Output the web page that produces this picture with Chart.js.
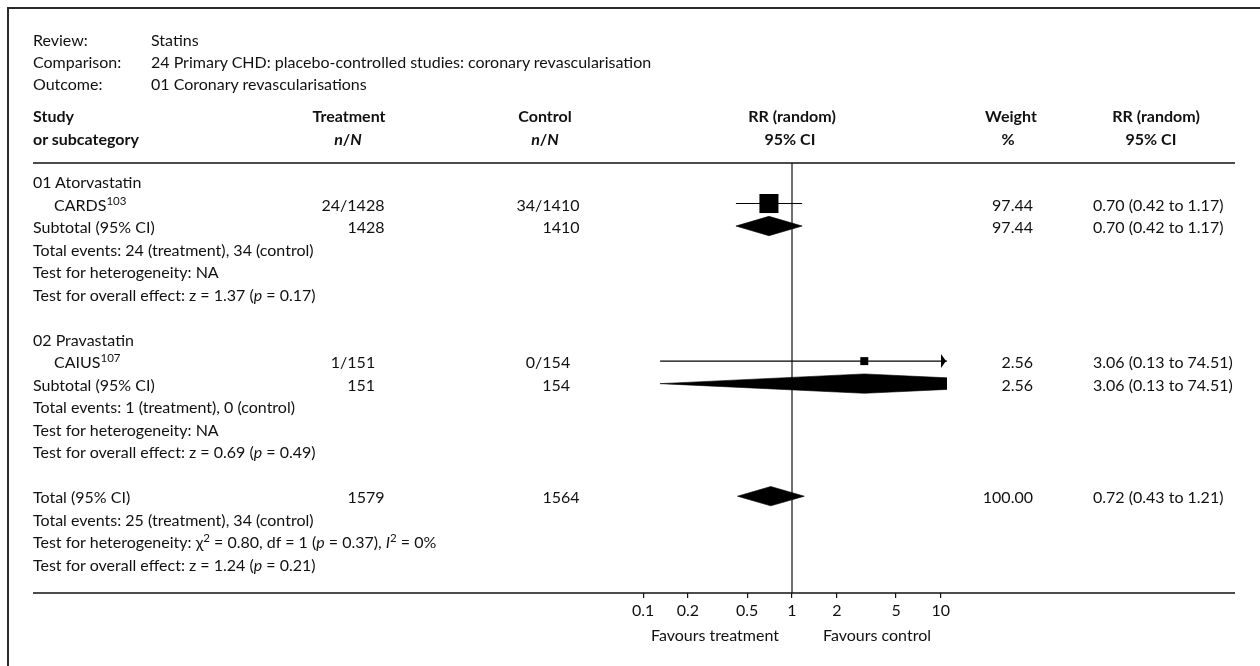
<!DOCTYPE html>
<html>
<head>
<meta charset="utf-8">
<title>Statins – coronary revascularisations</title>
<script src="https://cdn.jsdelivr.net/npm/chart.js@4.4.1/dist/chart.umd.min.js"></script>
<style>
  html, body { margin: 0; padding: 0; background: #fff; }
  #page { position: relative; width: 1260px; height: 666px; overflow: hidden;
          font-family: Lato, "Noto Sans", sans-serif; font-size: 16px; color: #111; }
  #frame { position: absolute; left: 7px; top: 7px; width: 1300px; height: 700px;
           border-left: 2px solid #2a2a2a; border-top: 2px solid #2a2a2a; }
  canvas { position: absolute; left: 0; top: 0; }
  .t { position: absolute; white-space: nowrap; line-height: 19px; transform: translateY(-50%); }
  .c { transform: translate(-50%, -50%); }
  .r { transform: translate(-100%, -50%); }
  .b { font-weight: bold; }
  sup { font-size: 0.72em; line-height: 0; position: relative; top: -0.5em; vertical-align: baseline; }
</style>
</head>
<body>
<div id="page">
  <div id="frame"></div>
  <canvas id="plot" width="1260" height="666"></canvas>
  <div id="txt"></div>
</div>
<script>
// ---- review details ----
const infoLabels = ["Review:", "Comparison:", "Outcome:"];
const infoValues = ["Statins",
                    "24 Primary CHD: placebo-controlled studies: coronary revascularisation",
                    "01 Coronary revascularisations"];

// ---- subgroups ----
const groupNames = ["01 Atorvastatin", "02 Pravastatin"];

// ---- individual studies ----
const studyNames   = ["CARDS", "CAIUS"];
const studyRefs    = ["103", "107"];
const studyGroup   = [0, 1];
const treatEvents  = [24, 1];
const treatTotals  = [1428, 151];
const ctrlEvents   = [34, 0];
const ctrlTotals   = [1410, 154];
const studyRR      = [0.70, 3.06];
const studyLow     = [0.42, 0.13];
const studyHigh    = [1.17, 74.51];
const studyWeight  = [97.44, 2.56];

// ---- subgroup summaries ----
const subTreatTotals = [1428, 151];
const subCtrlTotals  = [1410, 154];
const subTreatEvents = [24, 1];
const subCtrlEvents  = [34, 0];
const subRR          = [0.70, 3.06];
const subLow         = [0.42, 0.13];
const subHigh        = [1.17, 74.51];
const subWeight      = [97.44, 2.56];
const subHeterogeneity = ["NA", "NA"];
const subZ           = [1.37, 0.69];
const subP           = [0.17, 0.49];

// ---- overall summary ----
const totalTreatTotal = 1579, totalCtrlTotal = 1564;
const totalTreatEvents = 25, totalCtrlEvents = 34;
const totalRR = 0.72, totalLow = 0.43, totalHigh = 1.21, totalWeight = 100.00;
const totalChi2 = 0.80, totalDf = 1, totalHetP = 0.37, totalI2 = 0;
const totalZ = 1.24, totalP = 0.21;

// ---- axis ----
const axisTicks  = [0.1, 0.2, 0.5, 1, 2, 5, 10];
const axisLabels = ["0.1", "0.2", "0.5", "1", "2", "5", "10"];
const favourLeft = "Favours treatment", favourRight = "Favours control";

// ---- row layout: each subgroup uses 7 lines, the overall block follows ----
const LINES_PER_GROUP = 7;
const groupRow    = g => g * LINES_PER_GROUP;
const studyRow    = i => groupRow(studyGroup[i]) + 1;
const subRow      = g => groupRow(g) + 2;
const totalRow    = groupNames.length * LINES_PER_GROUP;
const DIAMOND_HALF = 0.43;           // half height of a summary diamond, in rows
const f2 = v => v.toFixed(2);
const ciText = (rr, lo, hi) => `${f2(rr)} (${f2(lo)} to ${f2(hi)})`;
const boxSide = w => Math.max(8, 19.3 * Math.sqrt(w / 100));

function diamond(rr, lo, hi, row) {
  return {
    type: 'line',
    data: [{x: lo, y: row}, {x: rr, y: row - DIAMOND_HALF}, {x: hi, y: row},
           {x: rr, y: row + DIAMOND_HALF}, {x: lo, y: row}],
    borderColor: '#000', borderWidth: 0.6, backgroundColor: '#000',
    fill: 'shape', pointRadius: 0, tension: 0
  };
}

const datasets = [];
// confidence interval whiskers
studyNames.forEach((s, i) => datasets.push({
  type: 'line',
  data: [{x: studyLow[i], y: studyRow(i)}, {x: studyHigh[i], y: studyRow(i)}],
  borderColor: '#000', borderWidth: 1.2, pointRadius: 0, fill: false
}));
// study boxes
datasets.push({
  type: 'scatter',
  data: studyNames.map((s, i) => ({x: studyRR[i], y: studyRow(i)})),
  pointStyle: 'rect',
  pointRadius: c => boxSide(studyWeight[c.dataIndex]) / Math.SQRT2,
  pointHoverRadius: c => boxSide(studyWeight[c.dataIndex]) / Math.SQRT2,
  backgroundColor: '#000', borderWidth: 0
});
// subgroup and overall diamonds
groupNames.forEach((g, i) => datasets.push(diamond(subRR[i], subLow[i], subHigh[i], subRow(i))));
datasets.push(diamond(totalRR, totalLow, totalHigh, totalRow));

const TABLE_LEFT = 33, TABLE_RIGHT = 1235;

const forestFrame = {
  id: 'forestFrame',
  beforeDatasetsDraw(chart) {
    const {ctx, chartArea: a, scales: {x}} = chart;
    const x1 = x.getPixelForValue(1);
    ctx.save();
    ctx.strokeStyle = '#111';
    ctx.lineWidth = 1.2;
    ctx.beginPath(); ctx.moveTo(x1, a.top); ctx.lineTo(x1, a.bottom); ctx.stroke();
    ctx.restore();
  },
  afterDraw(chart) {
    const {ctx, chartArea: a, scales: {x, y}} = chart;
    ctx.save();
    ctx.strokeStyle = '#111';
    ctx.lineWidth = 1.5;
    [a.top, a.bottom].forEach(yy => {
      ctx.beginPath(); ctx.moveTo(TABLE_LEFT, yy); ctx.lineTo(TABLE_RIGHT, yy); ctx.stroke();
    });
    // arrowheads where an interval runs past the axis
    ctx.fillStyle = '#000';
    studyNames.forEach((s, i) => {
      const yy = y.getPixelForValue(studyRow(i));
      if (studyHigh[i] > x.max) {
        const tip = a.right - 1;
        ctx.beginPath(); ctx.moveTo(tip, yy); ctx.lineTo(tip - 5, yy - 7); ctx.lineTo(tip - 5, yy + 7);
        ctx.closePath(); ctx.fill();
      }
      if (studyLow[i] < x.min) {
        const tip = a.left + 1;
        ctx.beginPath(); ctx.moveTo(tip, yy); ctx.lineTo(tip + 5, yy - 7); ctx.lineTo(tip + 5, yy + 7);
        ctx.closePath(); ctx.fill();
      }
    });
    ctx.restore();
  }
};

const chart = new Chart(document.getElementById('plot'), {
  type: 'scatter',
  data: {datasets},
  plugins: [forestFrame],
  options: {
    responsive: false,
    animation: false,
    devicePixelRatio: 1,
    layout: {padding: {left: 637, right: 313, top: 163, bottom: 33}},
    plugins: {legend: {display: false}, tooltip: {enabled: false}},
    events: [],
    scales: {
      x: {
        type: 'logarithmic',
        min: 1 / 11, max: 11,
        afterBuildTicks: s => { s.ticks = axisTicks.map(v => ({value: v})); },
        afterFit: s => { s.height = 40; },
        border: {display: false},
        grid: {display: true, drawOnChartArea: false, drawTicks: true, tickLength: 5,
               color: '#111', lineWidth: 1.2},
        ticks: {
          autoSkip: false, maxRotation: 0, padding: 3, color: '#111',
          font: {family: 'Lato', size: 16},
          callback: (v, idx) => axisLabels[idx]
        }
      },
      y: {type: 'linear', display: false, reverse: true, min: -0.8, max: 18.3}
    }
  }
});

// ---- table text ----
const txt = document.getElementById('txt');
function put(html, x, y, cls) {
  const d = document.createElement('div');
  d.className = 't ' + (cls || '');
  d.innerHTML = html;
  d.style.left = x + 'px';
  d.style.top = y + 'px';
  txt.appendChild(d);
  return d;
}
const ys = chart.scales.y, xs = chart.scales.x;
const rowY = r => ys.getPixelForValue(r);
const plotMid = xs.getPixelForValue(1);

const COL = {label: 33, indent: 54, info: 151, treat: 353, ctrl: 548, weight: 1033, ci: 1093};

infoLabels.forEach((l, i) => {
  put(l, COL.label, 39 + i * 22);
  put(infoValues[i], COL.info, 39 + i * 22);
});

// column headings
const H1 = 115, H2 = 138;
put('Study', COL.label, H1, 'b');
put('or subcategory', COL.label, H2, 'b');
put('Treatment', 349, H1, 'b c');
put('<i>n</i>/<i>N</i>', 348, H2, 'b c');
put('Control', 545, H1, 'b c');
put('<i>n</i>/<i>N</i>', 545, H2, 'b c');
put('RR (random)', plotMid, H1, 'b c');
put('95% CI', plotMid - 2, H2, 'b c');
put('Weight', 1011, H1, 'b c');
put('%', 1008, H2, 'b c');
put('RR (random)', 1156, H1, 'b c');
put('95% CI', 1151, H2, 'b c');

let treatEdge = 0, ctrlEdge = 0;
groupNames.forEach((g, gi) => {
  put(g, COL.label, rowY(groupRow(gi)));
  let tEdge = 0, cEdge = 0;
  studyNames.forEach((s, i) => {
    if (studyGroup[i] !== gi) return;
    const r = rowY(studyRow(i));
    put(`${s}<sup>${studyRefs[i]}</sup>`, COL.indent, r);
    const dt = put(`${treatEvents[i]}/${treatTotals[i]}`, COL.treat, r, 'c');
    const dc = put(`${ctrlEvents[i]}/${ctrlTotals[i]}`, COL.ctrl, r, 'c');
    tEdge = Math.max(tEdge, COL.treat + dt.offsetWidth / 2);
    cEdge = Math.max(cEdge, COL.ctrl + dc.offsetWidth / 2);
    put(f2(studyWeight[i]), COL.weight, r, 'r');
    put(ciText(studyRR[i], studyLow[i], studyHigh[i]), COL.ci, r);
  });
  treatEdge = Math.max(treatEdge, tEdge);
  ctrlEdge = Math.max(ctrlEdge, cEdge);
  const rs = rowY(subRow(gi));
  put('Subtotal (95% CI)', COL.label, rs);
  put(String(subTreatTotals[gi]), tEdge, rs, 'r');
  put(String(subCtrlTotals[gi]), cEdge, rs, 'r');
  put(f2(subWeight[gi]), COL.weight, rs, 'r');
  put(ciText(subRR[gi], subLow[gi], subHigh[gi]), COL.ci, rs);
  put(`Total events: ${subTreatEvents[gi]} (treatment), ${subCtrlEvents[gi]} (control)`, COL.label, rowY(groupRow(gi) + 3));
  put(`Test for heterogeneity: ${subHeterogeneity[gi]}`, COL.label, rowY(groupRow(gi) + 4));
  put(`Test for overall effect: z = ${f2(subZ[gi])} (<i>p</i> = ${f2(subP[gi])})`, COL.label, rowY(groupRow(gi) + 5));
});

const rt = rowY(totalRow);
put('Total (95% CI)', COL.label, rt);
put(String(totalTreatTotal), treatEdge, rt, 'r');
put(String(totalCtrlTotal), ctrlEdge, rt, 'r');
put(f2(totalWeight), COL.weight, rt, 'r');
put(ciText(totalRR, totalLow, totalHigh), COL.ci, rt);
put(`Total events: ${totalTreatEvents} (treatment), ${totalCtrlEvents} (control)`, COL.label, rowY(totalRow + 1));
put(`Test for heterogeneity: &chi;<sup>2</sup> = ${f2(totalChi2)}, df = ${totalDf} (<i>p</i> = ${f2(totalHetP)}), <i>I</i><sup>2</sup> = ${totalI2}%`, COL.label, rowY(totalRow + 2));
put(`Test for overall effect: z = ${f2(totalZ)} (<i>p</i> = ${f2(totalP)})`, COL.label, rowY(totalRow + 3));

// direction labels under the axis
put(favourLeft, plotMid - 13, 634, 'r');
put(favourRight, plotMid + 31, 634);
</script>
</body>
</html>
